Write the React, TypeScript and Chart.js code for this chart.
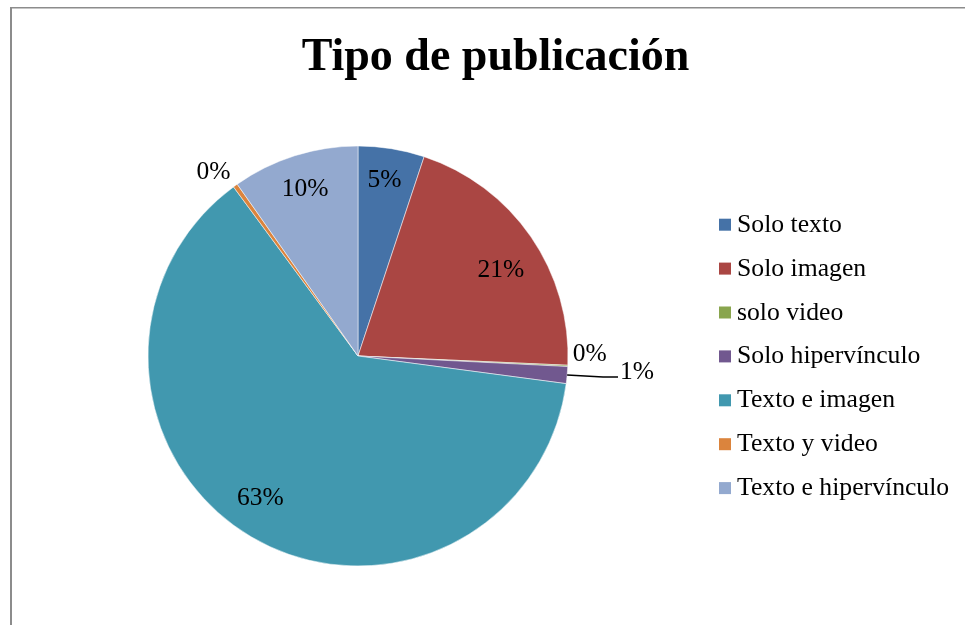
import React, { useEffect, useRef } from "react";
import { Chart, registerables } from "chart.js";

Chart.register(...registerables);

const titleText = "Tipo de publicación";
const categories = [
  "Solo texto",
  "Solo imagen",
  "solo video",
  "Solo hipervínculo",
  "Texto e imagen",
  "Texto y video",
  "Texto e hipervínculo",
];
const values = [5.1, 20.6, 0.1, 1.3, 62.8, 0.35, 9.75];
const colors = ["#4572A7", "#AA4643", "#89A54E", "#71588F", "#4198AF", "#DB843D", "#93A9CF"];

// label placement config: inside (fraction of radius) or outside (radius + px), with fine offsets
const labelMode = ["in", "in", "out", "leader", "in", "out", "in"];
const labelOffsets = [
  [-1, -8],
  [1, 10],
  [0, -14],
  [48, -7],
  [-10, -8],
  [-9, 3],
  [-1, -4],
];

const FONT = '"Liberation Serif", "Times New Roman", serif';

const decorPlugin = {
  id: "decor",
  afterDraw(chart: any) {
    const ctx = chart.ctx as CanvasRenderingContext2D;
    ctx.save();
    // frame
    ctx.fillStyle = "#8c8c8c";
    ctx.fillRect(10, 7, 2, 640);
    ctx.fillRect(10, 7, 980, 1.5);

    // title
    ctx.fillStyle = "#000";
    ctx.font = `bold 46px ${FONT}`;
    ctx.textAlign = "center";
    ctx.textBaseline = "alphabetic";
    ctx.fillText(titleText, 495.5, 69.5);

    // data labels
    const meta = chart.getDatasetMeta(0);
    const data = chart.data.datasets[0].data as number[];
    const total = data.reduce((a, b) => a + b, 0);
    ctx.font = `25.5px ${FONT}`;
    meta.data.forEach((arc: any, i: number) => {
      const mid = (arc.startAngle + arc.endAngle) / 2;
      const r = arc.outerRadius;
      const mode = labelMode[i];
      const d = mode === "in" ? r * 0.82 : r + 22;
      const px = arc.x + Math.cos(mid) * d + labelOffsets[i][0];
      const py = arc.y + Math.sin(mid) * d + labelOffsets[i][1];
      const txt = Math.round((data[i] / total) * 100) + "%";
      if (mode === "leader") {
        const sx = arc.x + Math.cos(mid) * r;
        const sy = arc.y + Math.sin(mid) * r;
        ctx.strokeStyle = "#000";
        ctx.lineWidth = 1.5;
        ctx.beginPath();
        ctx.moveTo(sx, sy);
        ctx.lineTo(px - 34, py + 7);
        ctx.lineTo(px - 19, py + 7);
        ctx.stroke();
      }
      ctx.fillStyle = "#000";
      ctx.textAlign = "center";
      ctx.fillText(txt, px, py + 8.5);
    });

    // legend
    ctx.font = `25.7px ${FONT}`;
    ctx.textAlign = "left";
    categories.forEach((c, i) => {
      const base = 231.7 + i * 43.9;
      ctx.fillStyle = colors[i];
      ctx.fillRect(719, base - 13, 12, 12);
      ctx.fillStyle = "#000";
      ctx.fillText(c, 737, base);
    });
    ctx.restore();
  },
};

export default function App() {
  const ref = useRef<HTMLCanvasElement | null>(null);
  useEffect(() => {
    if (!ref.current) return;
    const chart = new Chart(ref.current, {
      type: "pie",
      data: {
        labels: categories,
        datasets: [
          {
            data: values,
            backgroundColor: colors,
            borderColor: "rgba(255,255,255,0.5)",
            borderWidth: 1,
          },
        ],
      },
      options: {
        animation: false,
        responsive: false,
        devicePixelRatio: 1,
        radius: 210,
        layout: { padding: { left: 148, top: 146, right: 397, bottom: 59 } },
        plugins: {
          legend: { display: false },
          title: { display: false },
          tooltip: { enabled: false },
        },
      } as any,
      plugins: [decorPlugin],
    });
    return () => chart.destroy();
  }, []);
  return (
    <div style={{ position: "fixed", left: 0, top: 0, width: 965, height: 625, background: "#fff" }}>
      <canvas ref={ref} width={965} height={625} />
    </div>
  );
}
